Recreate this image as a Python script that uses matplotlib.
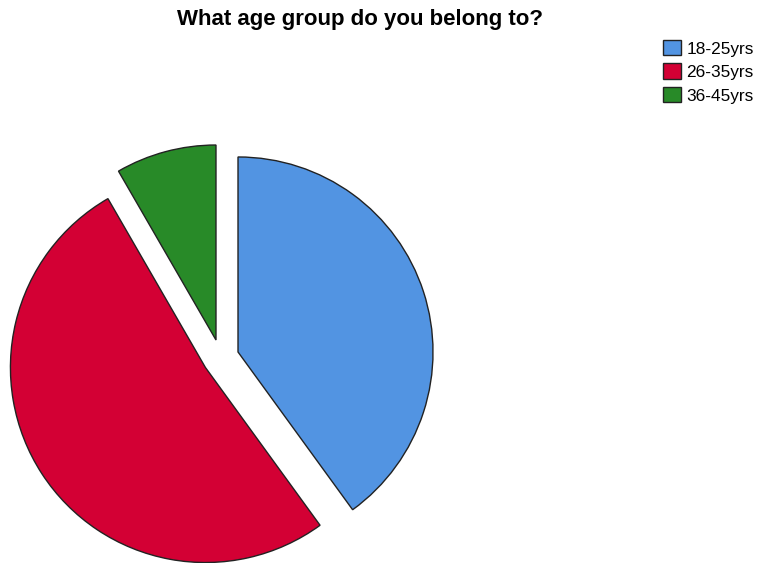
import matplotlib
matplotlib.use("Agg")
import matplotlib.pyplot as plt
from matplotlib.patches import Patch

categories = ["18-25yrs", "26-35yrs", "36-45yrs"]
counts = [24, 31, 5]
colors = ["#5294e2", "#d30034", "#288a28"]
title = "What age group do you belong to?"

plt.rcParams['font.family'] = ['Liberation Sans', 'DejaVu Sans']

W, H = 757, 563
fig = plt.figure(figsize=(W / 100, H / 100), dpi=100)
ax = fig.add_axes([0, 0, 1, 1])

cx, cy, r = 220.7, H - 357.6, 195
ax.pie(counts, colors=colors, startangle=90, counterclock=False,
       explode=[18.2] * 3, center=(cx, cy), radius=r,
       wedgeprops=dict(edgecolor="#222222", linewidth=1.0))
ax.set_xlim(0, W)
ax.set_ylim(0, H)
ax.set_aspect("equal")
ax.axis("off")

fig.text(360 / W, 1 - 19 / H, title, ha="center", va="center",
         fontsize=16, fontweight="bold")

handles = [Patch(facecolor=c, edgecolor="#222222", linewidth=1.0) for c in colors]
fig.legend(handles, categories, loc="upper left",
           bbox_to_anchor=(663 / W, 1 - 40 / H), frameon=False,
           fontsize=12.4, handlelength=1.05, handleheight=1.0,
           handletextpad=0.3, labelspacing=0.4, borderpad=0, borderaxespad=0)

fig.savefig("out.png", dpi=100)
